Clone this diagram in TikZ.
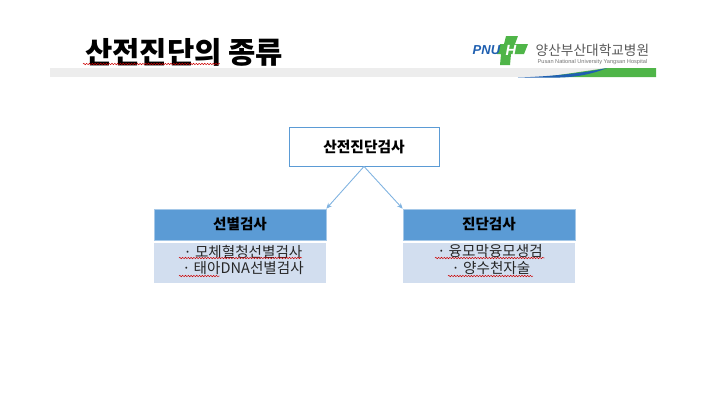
\documentclass[tikz,border=0pt]{standalone}
\usepackage{fontspec}
\setmainfont{Noto Sans CJK KR}
\newfontfamily\latinsans{Liberation Sans}
\usetikzlibrary{positioning,arrows.meta,shadows,decorations.pathmorphing}
\definecolor{headblue}{HTML}{5B9BD5}
\definecolor{bodyblue}{HTML}{D2DEEF}
\definecolor{linkblue}{HTML}{7FB2E0}
\definecolor{bandgray}{HTML}{EDEDED}
\definecolor{logogreen}{HTML}{4FB548}
\definecolor{logoblue}{HTML}{1F5FB0}
\begin{document}
\begin{tikzpicture}[
    head/.style={draw=headblue!55, line width=0.2pt, fill=headblue, minimum width=1.72cm, minimum height=0.31cm,
                 inner sep=0pt, font=\fontsize{4.15}{4}\selectfont\bfseries},
    panel/.style={fill=bodyblue, minimum width=1.72cm, minimum height=0.40cm, inner sep=0pt},
    item/.style={inner sep=0pt, font=\fontsize{4.15}{4}\selectfont, text=black!85},
    link/.style={draw=linkblue, line width=0.25pt, -{Stealth[length=1.6pt,width=1.4pt]}},
    squiggle/.style={draw=red!80!black, line width=0.14pt,
                     decorate, decoration={snake, amplitude=0.2pt, segment length=0.8pt}}
]
    \useasboundingbox (0,0) rectangle (7.18,-4.04);

    % Header band
    \fill[bandgray] (0.50,-0.68) rectangle (6.56,-0.77);
    \fill[logogreen] (5.45,-0.77) -- (6.07,-0.68) -- (6.56,-0.68) -- (6.56,-0.77) -- cycle;
    \fill[logoblue] (5.18,-0.775) .. controls (5.50,-0.765) and (5.85,-0.73) .. (6.07,-0.68)
        .. controls (5.90,-0.75) and (5.75,-0.77) .. (5.60,-0.775) -- cycle;

    % Title
    \node[inner sep=0pt, anchor=west, font=\fontsize{8.45}{8}\selectfont\bfseries] (title) at (0.845,-0.52) {산전진단의 종류};
    \draw[squiggle] (0.83,-0.64) -- (2.20,-0.64);

    % Logo
    \fill[logogreen] (5.06,-0.36) -- (5.18,-0.36) -- (5.15,-0.44) -- (5.28,-0.44) -- (5.24,-0.54) -- (5.11,-0.54)
        -- (5.10,-0.65) -- (5.00,-0.65) -- (5.01,-0.54) -- (4.97,-0.54) -- (5.00,-0.44) -- (5.04,-0.44) -- cycle;
    \node[inner sep=0pt, anchor=west, text=logoblue, font=\latinsans\fontsize{3.7}{4}\selectfont\bfseries\itshape] (pnu) at (4.72,-0.505) {PNU};
    \node[inner sep=0pt, text=white, font=\latinsans\fontsize{4.2}{5}\selectfont\bfseries\itshape] (pnuh) at (5.11,-0.505) {H};
    \node[inner sep=0pt, anchor=west, text=black!65, font=\fontsize{3.9}{4}\selectfont] (hosp) at (5.35,-0.505) {양산부산대학교병원};
    \node[inner sep=0pt, anchor=west, text=black!55, font=\latinsans\fontsize{1.6}{2}\selectfont] (hospen) at (5.37,-0.625) {Pusan National University Yangsan Hospital};

    % Diagram boxes
    \node[draw=headblue, line width=0.25pt, fill=white, drop shadow={shadow xshift=0.1pt, shadow yshift=-0.3pt, opacity=0.35},
          minimum width=1.50cm, minimum height=0.39cm, inner sep=0pt,
          font=\fontsize{4.2}{4}\selectfont\bfseries] (exam) at (3.64,-1.465) {산전진단검사};

    \node[head] (screen) at (2.40,-2.245) {선별검사};
    \node[panel] (screenbody) at (2.40,-2.63) {};
    \node[head] (diag) at (4.89,-2.245) {진단검사};
    \node[panel] (diagbody) at (4.89,-2.63) {};

    % Items
    \node[item] (s1) at (2.43,-2.515) {· 모체혈청선별검사};
    \node[item] (s2) at (2.43,-2.685) {· 태아DNA선별검사};
    \node[item] (d1) at (4.90,-2.515) {· 융모막융모생검};
    \node[item] (d2) at (4.91,-2.685) {· 양수천자술};

    % Spelling marks
    \draw[squiggle] (1.79,-2.58) -- (3.02,-2.58);
    \draw[squiggle] (1.79,-2.76) -- (2.20,-2.76);
    \draw[squiggle] (4.35,-2.58) -- (5.45,-2.58);
    \draw[squiggle] (4.48,-2.76) -- (5.33,-2.76);

    % Arrows
    \draw[link] (exam.south) -- (screen.north east);
    \draw[link] (exam.south) -- (diag.north west);
\end{tikzpicture}
\end{document}
